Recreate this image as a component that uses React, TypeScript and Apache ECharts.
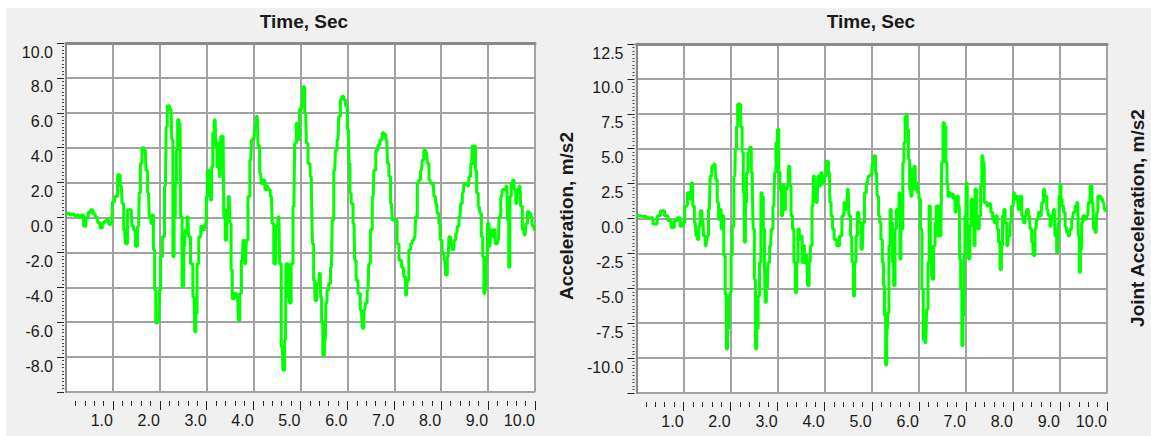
import React, { useEffect, useRef } from "react";
import * as echarts from "echarts";

// ---- data (time in s, acceleration in m/s2) ----
const leftSignal: [number, number][] = [
  [0.00,0.2],[0.05,0.25],[0.10,0.15],[0.15,0.2],[0.20,0.1],[0.25,0.15],[0.30,0.0],[0.35,0.15],[0.40,-0.5],[0.45,0.0],[0.50,0.3],[0.55,0.45],[0.60,0.2],[0.65,0.0],[0.70,-0.3],[0.75,-0.6],[0.80,-0.3],[0.85,-0.2],[0.90,-0.1],[0.93,-0.4],[0.98,-0.3],
  [1.00,0.9],[1.07,1.2],[1.13,2.45],[1.18,1.8],[1.21,0.8],[1.25,-0.7],[1.28,-1.5],[1.34,0.45],[1.39,0.45],[1.42,-0.5],[1.46,-0.7],[1.50,-1.65],[1.55,-0.5],[1.57,1.4],[1.60,3.1],[1.64,4.0],[1.69,3.9],[1.72,2.7],[1.76,1.4],[1.79,0.05],[1.83,-0.35],[1.85,0.15],[1.88,-1.85],[1.90,-4.15],[1.93,-6.05],[1.98,-5.9],
  [2.00,-4.15],[2.03,-2.25],[2.08,-1.1],[2.12,1.8],[2.15,5.2],[2.17,6.4],[2.24,6.2],[2.27,4.45],[2.29,-2.25],[2.32,0.05],[2.34,1.95],[2.37,3.85],[2.39,5.6],[2.43,5.4],[2.46,0.05],[2.49,-3.95],[2.53,-1.65],[2.56,-0.7],[2.60,0.05],[2.63,-1.1],[2.68,-2.65],[2.73,-4.55],[2.76,-6.55],[2.78,-5.5],[2.81,-2.65],[2.85,-1.1],[2.90,-0.5],[2.95,-0.7],[2.98,-0.35],
  [3.00,1.2],[3.03,2.7],[3.07,2.15],[3.09,1.0],[3.12,2.9],[3.14,4.85],[3.18,5.6],[3.21,4.1],[3.23,2.9],[3.25,4.25],[3.29,2.35],[3.31,4.65],[3.35,4.65],[3.38,0.05],[3.41,-1.3],[3.44,0.45],[3.48,1.2],[3.51,-0.35],[3.53,-3.0],[3.56,-4.65],[3.62,-4.35],[3.66,-4.55],[3.69,-5.9],[3.72,-4.35],[3.76,-2.45],[3.79,-1.3],[3.83,-2.65],[3.86,-1.3],[3.90,1.2],[3.94,3.3],[3.97,4.45],
  [4.01,4.55],[4.04,5.2],[4.08,5.8],[4.11,4.1],[4.15,2.55],[4.18,1.95],[4.22,2.15],[4.26,1.6],[4.30,1.8],[4.33,1.6],[4.38,1.2],[4.41,-0.35],[4.45,-2.65],[4.50,-0.5],[4.54,0.05],[4.57,-2.65],[4.61,-7.4],[4.64,-8.75],[4.68,-7.0],[4.70,-2.65],[4.72,-2.65],[4.75,-4.55],[4.78,-4.9],[4.82,-2.65],[4.86,0.65],[4.89,4.25],[4.93,5.4],[4.96,4.45],
  [5.00,6.2],[5.04,6.4],[5.07,7.5],[5.11,6.0],[5.14,4.25],[5.18,3.1],[5.23,2.35],[5.25,0.25],[5.26,-1.5],[5.30,-3.6],[5.32,-4.75],[5.37,-3.8],[5.42,-3.2],[5.44,-4.55],[5.46,-6.05],[5.49,-7.9],[5.53,-7.0],[5.55,-4.9],[5.58,-4.15],[5.62,-3.8],[5.66,-2.85],[5.69,-0.15],[5.73,2.7],[5.76,3.85],[5.80,4.45],[5.83,5.8],[5.87,6.75],[5.90,6.95],[5.94,6.75],[5.98,6.4],
  [6.02,5.05],[6.05,3.1],[6.06,1.4],[6.10,0.8],[6.14,-0.35],[6.17,-2.45],[6.20,-3.6],[6.25,-4.35],[6.30,-5.3],[6.33,-6.35],[6.37,-5.3],[6.40,-4.9],[6.44,-4.15],[6.47,-2.65],[6.51,-0.7],[6.55,1.2],[6.58,2.7],[6.63,3.85],[6.67,4.15],[6.72,4.45],[6.76,4.85],[6.80,4.75],[6.84,4.45],[6.87,3.1],[6.90,2.35],[6.94,0.8],[6.97,-0.15],
  [7.04,-0.15],[7.08,-1.5],[7.12,-2.45],[7.19,-2.85],[7.22,-3.4],[7.26,-4.45],[7.29,-3.6],[7.33,-1.85],[7.37,-1.5],[7.40,-1.3],[7.44,-1.1],[7.47,0.05],[7.51,1.95],[7.54,2.15],[7.58,2.7],[7.61,3.3],[7.65,3.85],[7.69,3.7],[7.72,3.1],[7.76,2.15],[7.79,1.95],[7.83,1.95],[7.86,1.2],[7.90,0.8],[7.93,0.25],[7.97,-0.35],
  [8.00,-1.3],[8.04,-2.05],[8.08,-2.45],[8.11,-3.3],[8.15,-2.25],[8.18,-1.1],[8.22,-1.5],[8.25,-1.85],[8.29,-1.3],[8.33,-0.9],[8.36,-0.5],[8.40,0.05],[8.43,0.8],[8.47,1.4],[8.50,1.9],[8.54,1.95],[8.58,1.8],[8.61,2.35],[8.65,3.1],[8.67,4.1],[8.70,3.1],[8.72,4.1],[8.74,2.7],[8.77,1.4],[8.81,0.65],[8.84,0.25],[8.87,-1.1],[8.90,-2.25],[8.92,-4.35],[8.94,-4.15],[8.97,-2.25],
  [9.00,-0.35],[9.04,-1.65],[9.06,-0.7],[9.10,-1.1],[9.12,-0.7],[9.18,-1.5],[9.22,-1.3],[9.25,0.05],[9.29,1.2],[9.32,1.6],[9.36,1.6],[9.40,1.8],[9.43,-0.15],[9.45,-2.85],[9.48,1.2],[9.51,1.95],[9.54,2.15],[9.57,1.6],[9.61,0.8],[9.64,1.6],[9.68,1.8],[9.71,0.65],[9.75,-0.7],[9.79,-1.0],[9.82,-0.35],[9.86,0.35],[9.89,0.25],[9.93,0.05],[9.96,-0.5],[10.0,-0.7],
];

const rightSignal: [number, number][] = [
  [0.00,0.2],[0.14,0.15],[0.28,0.05],[0.42,-0.4],[0.46,0.2],[0.56,0.55],[0.63,0.2],[0.70,-0.15],[0.77,-0.65],[0.84,-0.15],[0.90,0.05],[0.95,-0.55],
  [1.00,-0.3],[1.05,0.9],[1.11,1.85],[1.15,1.4],[1.18,2.55],[1.21,0.9],[1.25,-0.3],[1.28,-1.25],[1.31,-1.5],[1.34,-0.55],[1.37,0.55],[1.41,-0.05],[1.44,-1.25],[1.48,-1.95],[1.51,-1.25],[1.55,0.65],[1.58,3.05],[1.62,3.75],[1.67,3.9],[1.70,2.8],[1.73,1.15],[1.76,-0.05],[1.79,0.65],[1.81,-0.75],[1.84,0.2],[1.87,-2.65],[1.90,-5.45],[1.92,-9.35],[1.95,-7.9],[1.97,-5.55],
  [2.00,-5.3],[2.02,-2.65],[2.05,-0.55],[2.09,3.05],[2.11,4.95],[2.14,6.6],[2.16,8.2],[2.21,8.2],[2.23,6.6],[2.26,4.75],[2.28,1.85],[2.30,-1.7],[2.33,1.15],[2.35,3.3],[2.39,4.75],[2.42,5.1],[2.46,3.3],[2.47,1.6],[2.49,-0.75],[2.52,-4.35],[2.54,-9.35],[2.57,-7.9],[2.60,-5.55],[2.63,-3.15],[2.66,1.85],[2.68,1.6],[2.71,-0.75],[2.73,-3.15],[2.74,-6.0],[2.78,-5.05],[2.81,-3.15],[2.85,-1.95],[2.88,-0.75],[2.92,0.9],[2.95,3.3],[2.98,5.45],
  [3.01,6.4],[3.04,3.3],[3.06,2.1],[3.09,0.2],[3.12,2.35],[3.15,0.65],[3.18,2.1],[3.22,2.35],[3.25,3.75],[3.27,2.35],[3.30,0.2],[3.33,-0.75],[3.36,-3.15],[3.39,-5.3],[3.42,-3.15],[3.44,-0.75],[3.48,-1.5],[3.51,-1.25],[3.53,-3.15],[3.56,-1.95],[3.58,-3.15],[3.62,-2.65],[3.65,-4.8],[3.69,-3.15],[3.71,-1.95],[3.75,0.9],[3.77,3.05],[3.79,2.1],[3.84,1.15],[3.87,3.05],[3.90,2.35],[3.94,3.3],[3.97,2.55],
  [4.01,3.05],[4.06,4.1],[4.10,3.3],[4.12,1.15],[4.15,0.2],[4.18,-0.75],[4.22,-1.5],[4.29,-1.95],[4.34,-1.25],[4.39,0.2],[4.43,1.15],[4.46,0.65],[4.50,2.1],[4.53,0.2],[4.57,-1.25],[4.60,-3.15],[4.62,-5.55],[4.65,-3.15],[4.68,-1.25],[4.71,0.45],[4.74,-0.3],[4.80,-2.2],[4.83,-0.3],[4.86,1.85],[4.91,2.55],[4.94,3.05],
  [5.00,3.15],[5.03,4.0],[5.06,4.5],[5.10,3.3],[5.13,1.6],[5.16,0.2],[5.18,-0.3],[5.21,-1.5],[5.24,-3.15],[5.26,-4.8],[5.28,-6.95],[5.31,-10.5],[5.33,-7.9],[5.35,-6.75],[5.38,-1.95],[5.40,0.65],[5.43,-0.3],[5.45,-3.15],[5.48,-4.8],[5.51,-0.75],[5.54,0.65],[5.57,0.2],[5.59,1.85],[5.61,-2.9],[5.63,-0.05],[5.65,-0.75],[5.67,4.0],[5.70,5.45],[5.72,7.35],[5.74,7.45],[5.77,6.4],[5.79,4.25],[5.82,2.1],[5.84,1.6],[5.87,3.55],[5.89,2.1],[5.91,3.75],[5.94,2.1],[5.96,2.55],[5.99,1.85],
  [6.02,1.4],[6.05,-0.75],[6.08,-5.05],[6.11,-8.65],[6.15,-8.9],[6.18,-6.5],[6.21,-3.15],[6.23,0.9],[6.26,-1.95],[6.28,-4.1],[6.30,-4.35],[6.33,-1.95],[6.36,-0.3],[6.38,0.9],[6.40,-1.25],[6.43,0.9],[6.47,-1.25],[6.50,4.0],[6.53,6.85],[6.56,6.6],[6.59,4.0],[6.61,2.55],[6.63,1.6],[6.66,1.85],[6.69,1.6],[6.72,1.75],[6.75,1.4],[6.79,0.45],[6.82,1.6],[6.86,0.9],[6.88,-2.9],[6.90,-5.05],[6.93,-9.1],[6.95,-6.95],[6.97,-2.65],[6.99,0.2],
  [7.02,2.55],[7.04,-0.75],[7.07,-2.9],[7.10,-0.55],[7.13,1.4],[7.16,0.2],[7.18,-1.95],[7.21,2.1],[7.24,0.2],[7.27,-0.75],[7.30,0.2],[7.33,2.35],[7.35,4.5],[7.38,4.0],[7.40,1.15],[7.43,1.15],[7.47,0.9],[7.51,1.05],[7.55,0.45],[7.59,-0.05],[7.62,-0.3],[7.65,0.2],[7.68,-0.75],[7.71,-1.7],[7.74,-3.65],[7.77,-1.95],[7.79,0.2],[7.82,0.65],[7.85,-0.3],[7.89,-1.95],[7.92,-1.25],[7.96,-0.3],[7.99,0.9],
  [8.03,1.85],[8.06,1.4],[8.10,1.6],[8.13,0.65],[8.17,1.6],[8.21,0.2],[8.24,-0.3],[8.28,0.2],[8.31,0.65],[8.35,0.2],[8.38,-0.75],[8.42,-1.7],[8.45,-2.65],[8.49,-0.75],[8.52,-0.05],[8.56,0.45],[8.60,0.2],[8.63,1.15],[8.67,2.1],[8.70,1.6],[8.74,0.65],[8.77,0.2],[8.81,-0.55],[8.84,0.2],[8.88,0.65],[8.91,-1.25],[8.95,-2.45],[8.97,-0.3],[8.99,1.6],
  [9.01,2.45],[9.03,1.4],[9.06,0.9],[9.09,0.45],[9.13,-0.55],[9.16,-1.0],[9.20,-1.25],[9.23,-0.75],[9.27,-0.05],[9.30,0.45],[9.34,0.9],[9.38,1.15],[9.40,-1.25],[9.42,-3.85],[9.45,-2.2],[9.47,-0.3],[9.50,0.2],[9.54,-0.05],[9.59,0.2],[9.62,1.15],[9.66,2.35],[9.70,1.15],[9.73,-0.75],[9.77,-1.0],[9.79,0.45],[9.82,1.6],[9.85,1.6],[9.89,1.4],[9.93,1.15],[9.96,0.65],[9.99,0.45],
];

const timeRange = [0, 10];
const timeMajorTicks = [1, 2, 3, 4, 5, 6, 7, 8, 9, 10];
const leftYRange = [-10, 10];
const rightYRange = [-12.5, 12.5];
const leftYStep = 2;
const rightYStep = 2.5;
const titles = ["Time, Sec", "Time, Sec"];
const yNames = ["Acceleration, m/s2", "Joint Acceleration, m/s2"];

const FONT = "'Liberation Sans', Arial, sans-serif";
const TXT = "#1a1a1a";
const GRIDC = "#a2a2a2";
const FRAMEC = "#8a8a8a";

function mainX(gridIndex: number) {
  return {
    type: "value",
    gridIndex,
    min: timeRange[0],
    max: timeRange[1],
    interval: 1,
    position: "bottom",
    offset: 9,
    axisLine: { show: false, onZero: false },
    axisTick: { show: true, length: 9, customValues: timeMajorTicks, lineStyle: { color: "#222", width: 1 } },
    minorTick: { show: true, splitNumber: 5, length: 5, lineStyle: { color: "#222", width: 1 } },
    axisLabel: {
      formatter: (v: number) => (v === 0 ? "" : v.toFixed(1)),
      align: "right",
      margin: 11,
      fontSize: 16,
      fontFamily: FONT,
      color: TXT,
    },
    splitLine: { show: true, lineStyle: { color: GRIDC, width: 2 } },
  };
}
function frameX(gridIndex: number) {
  return {
    type: "value",
    gridIndex,
    min: timeRange[0],
    max: timeRange[1],
    position: "top",
    axisLine: { show: true, onZero: false, lineStyle: { color: FRAMEC, width: 3 } },
    axisTick: { show: false },
    axisLabel: { show: false },
    splitLine: { show: false },
  };
}
function mainY(gridIndex: number, range: number[], step: number) {
  return {
    type: "value",
    gridIndex,
    min: range[0],
    max: range[1],
    interval: step,
    position: "left",
    offset: 2,
    axisLine: { show: false, onZero: false },
    axisTick: { show: true, length: 7, lineStyle: { color: "#222", width: 1 } },
    minorTick: { show: true, splitNumber: 10, length: 2, lineStyle: { color: "#444", width: 1 } },
    axisLabel: {
      formatter: (v: number) => (v === range[0] ? "" : v.toFixed(1)),
      verticalAlign: "top",
      padding: [1, 0, 0, 0],
      margin: 11,
      fontSize: 16,
      fontFamily: FONT,
      color: TXT,
    },
    splitLine: { show: true, lineStyle: { color: GRIDC, width: 2 } },
  };
}
function frameY(gridIndex: number, range: number[]) {
  return {
    type: "value",
    gridIndex,
    min: range[0],
    max: range[1],
    position: "left",
    offset: 0,
    axisLine: { show: true, onZero: false, lineStyle: { color: FRAMEC, width: 2 } },
    axisTick: { show: false },
    axisLabel: { show: false },
    splitLine: { show: false },
  };
}

function lineSeries(xIdx: number, yIdx: number, data: [number, number][]) {
  return {
    type: "line",
    xAxisIndex: xIdx,
    yAxisIndex: yIdx,
    data,
    step: "middle",
    showSymbol: false,
    symbol: "none",
    lineStyle: { color: "#00ff00", width: 3 },
    itemStyle: { color: "#00ff00" },
    z: 5,
  };
}

export default function App() {
  const ref = useRef<HTMLDivElement>(null);
  useEffect(() => {
    if (!ref.current) return;
    const chart = echarts.init(ref.current, null, { renderer: "svg" });
    const titleFont = { fontSize: 19, fontWeight: "bold", fontFamily: FONT, fill: TXT };
    chart.setOption({
      animation: false,
      grid: [
        { left: 66, top: 43, width: 469, height: 349, show: true, backgroundColor: "#ffffff", borderColor: "#d6d6d6", borderWidth: 2 },
        { left: 636.5, top: 44, width: 470.5, height: 349, show: true, backgroundColor: "#ffffff", borderColor: "#d6d6d6", borderWidth: 2 },
      ],
      xAxis: [mainX(0), frameX(0), mainX(1), frameX(1)],
      yAxis: [
        mainY(0, leftYRange, leftYStep),
        frameY(0, leftYRange),
        mainY(1, rightYRange, rightYStep),
        frameY(1, rightYRange),
      ],
      series: [lineSeries(0, 0, leftSignal), lineSeries(2, 2, rightSignal)],
      graphic: [
        { type: "text", x: 304, y: 21, silent: true, style: { text: titles[0], align: "center", verticalAlign: "middle", ...titleFont } },
        { type: "text", x: 871, y: 21, silent: true, style: { text: titles[1], align: "center", verticalAlign: "middle", ...titleFont } },
        { type: "text", x: 566, y: 216, rotation: Math.PI / 2, silent: true, style: { text: yNames[0], align: "center", verticalAlign: "middle", ...titleFont } },
        { type: "text", x: 1137, y: 218, rotation: Math.PI / 2, silent: true, style: { text: yNames[1], align: "center", verticalAlign: "middle", ...titleFont } },
      ],
    });
    return () => chart.dispose();
  }, []);
  return (
    <div style={{ position: "fixed", left: 0, top: 0, width: 1151, height: 436, background: "#ffffff", overflow: "hidden" }}>
      <div style={{ position: "absolute", left: 6, top: 8, right: 0, bottom: 0, background: "#f0f0f0" }} />
      <div ref={ref} style={{ position: "absolute", left: 0, top: 0, width: 1151, height: 436 }} />
    </div>
  );
}
